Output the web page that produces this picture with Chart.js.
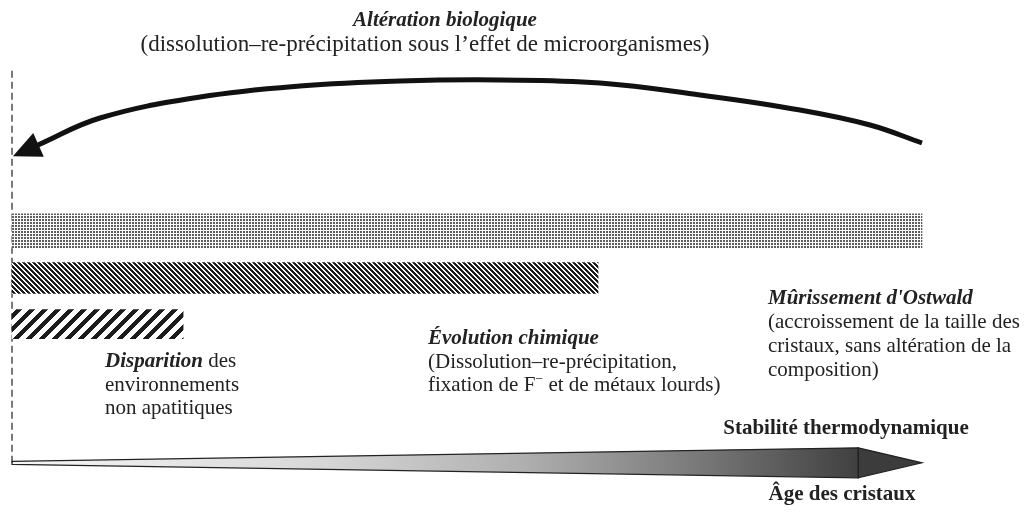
<!DOCTYPE html>
<html>
<head>
    <meta charset="utf-8">
    <title>Vieillissement des cristaux d'apatite</title>
    <script src="https://cdn.jsdelivr.net/npm/chart.js@4.4.0/dist/chart.umd.min.js"></script>
    <style>
        body{
            margin: 0;
            background-color: #ffffff;
        }
        canvas{
            display: block;
        }
    </style>
</head>
<body>
    <canvas id="myChart1" width="1025" height="512"></canvas>

<script>
    // ---- data (x = age des cristaux, 0..100 ; y = hauteur dans le schema, 0..100) ----
    const barNames  = ["Mûrissement d'Ostwald", "Évolution chimique", "Disparition"]
    const barStart  = [0, 0, 0]
    const barEnd    = [100, 64.4, 18.8]
    const barLevel  = [54.9, 45.7, 36.7]

    // fleche courbe (alteration biologique), lue de gauche a droite
    const arcX   = [2.86, 9.67, 20.66, 31.65, 42.64, 53.63, 64.62, 75.6, 86.59, 94.29, 100]
    const arcY   = [71.68, 76.95, 81.05, 83.2, 84.18, 84.38, 83.79, 81.45, 78.52, 75.59, 72.07]
    const arcTip = [0.1, 69.5]

    // axe du bas : debut, base de la pointe, pointe
    const ageAxis  = [0, 93, 100]
    const ageLevel = 9.6
    const originTop = 86.7

    // textes
    const titleText = "Altération biologique"
    const titleNote = "(dissolution–re-précipitation sous l’effet de microorganismes)"
    const axisTop = "Stabilité thermodynamique"
    const axisBottom = "Âge des cristaux"
    const stageText = [
        [[["Mûrissement d'Ostwald", "bi"]],
         [["(accroissement de la taille des", "r"]],
         [["cristaux, sans altération de la", "r"]],
         [["composition)", "r"]]],
        [[["Évolution chimique", "bi"]],
         [["(Dissolution–re-précipitation,", "r"]],
         [["fixation de F", "r"], ["−", "sup"], [" et de métaux lourds)", "r"]]],
        [[["Disparition", "bi"], [" des", "r"]],
         [["environnements", "r"]],
         [["non apatitiques", "r"]]]
    ]

    // ---- layout / styles ----
    const stageTextPos = [[768, 304, 24], [428, 344, 23.5], [105, 367, 23.5]]
    const barSizes = [34, 31, 29]
    const serif = '"Liberation Serif", "Times New Roman", serif'
    const ink = '#222222'

    function fontFor(kind){
        if(kind == "bi") return "italic bold 21px " + serif
        if(kind == "b") return "bold 21px " + serif
        if(kind == "big") return "23px " + serif
        if(kind == "sup") return "14px " + serif
        return "21px " + serif
    }

    function makePattern(size, test, dark, light){
        const c = document.createElement('canvas')
        c.width = size; c.height = size
        const g = c.getContext('2d')
        g.fillStyle = light
        g.fillRect(0, 0, size, size)
        g.fillStyle = dark
        for(let i = 0; i < size; i++){
            for(let j = 0; j < size; j++){
                if(test(i, j)) g.fillRect(i, j, 1, 1)
            }
        }
        return g.createPattern(c, 'repeat')
    }

    const dots = makePattern(3, (i, j) => i < 2 && j < 2, '#5e5e5e', '#fafafa')
    const fineHatch = makePattern(5, (i, j) => ((i - j) % 5 + 5) % 5 < 3, '#1c1c1c', '#ffffff')
    const wideHatch = makePattern(13, (i, j) => (i + j) % 13 < 6, '#1c1c1c', '#ffffff')
    const barFills = [dots, fineHatch, wideHatch]

    function drawRich(ctx, segs, x, y, align){
        let total = 0
        segs.forEach(s => { ctx.font = fontFor(s[1]); total += ctx.measureText(s[0]).width })
        let cx = (align == "center") ? x - total / 2 : x
        segs.forEach(s => {
            ctx.font = fontFor(s[1])
            const dy = (s[1] == "sup") ? -8 : 0
            ctx.fillText(s[0], cx, y + dy)
            cx += ctx.measureText(s[0]).width
        })
    }

    // axe "age des cristaux" en forme de coin
    const wedgePlugin = {
        id: 'wedge',
        beforeDatasetsDraw(chart){
            const ctx = chart.ctx
            const xs = chart.scales.x, ys = chart.scales.y
            const x0 = xs.getPixelForValue(ageAxis[0])
            const x1 = xs.getPixelForValue(ageAxis[1])
            const x2 = xs.getPixelForValue(ageAxis[2])
            const yc = ys.getPixelForValue(ageLevel)
            const h0 = 1.5, h1 = 15

            ctx.save()
            const grad = ctx.createLinearGradient(x0, 0, x1, 0)
            grad.addColorStop(0, '#f6f6f6')
            grad.addColorStop(0.35, '#d9d9d9')
            grad.addColorStop(0.6, '#b0b0b0')
            grad.addColorStop(0.8, '#7c7c7c')
            grad.addColorStop(1, '#404040')
            ctx.beginPath()
            ctx.moveTo(x0, yc - h0)
            ctx.lineTo(x1, yc - h1)
            ctx.lineTo(x1, yc + h1)
            ctx.lineTo(x0, yc + h0)
            ctx.closePath()
            ctx.fillStyle = grad
            ctx.fill()
            ctx.strokeStyle = '#222'
            ctx.lineWidth = 1.2
            ctx.stroke()

            ctx.beginPath()
            ctx.moveTo(x1, yc - h1)
            ctx.lineTo(x2, yc)
            ctx.lineTo(x1, yc + h1)
            ctx.closePath()
            ctx.fillStyle = '#3c3c3c'
            ctx.fill()
            ctx.stroke()
            ctx.restore()
        }
    }

    // pointe de la fleche courbe + textes
    const notesPlugin = {
        id: 'notes',
        afterDatasetsDraw(chart){
            const ctx = chart.ctx
            const xs = chart.scales.x, ys = chart.scales.y
            const meta = chart.getDatasetMeta(3)
            const first = meta.data[0]
            const tx = xs.getPixelForValue(arcTip[0])
            const ty = ys.getPixelForValue(arcTip[1])
            const ang = Math.atan2(ty - first.y, tx - first.x)
            const len = 28, half = 13
            const bx = tx - len * Math.cos(ang), by = ty - len * Math.sin(ang)

            ctx.save()
            ctx.fillStyle = '#111'
            ctx.beginPath()
            ctx.moveTo(tx, ty)
            ctx.lineTo(bx + half * Math.sin(ang), by - half * Math.cos(ang))
            ctx.lineTo(bx - half * Math.sin(ang), by + half * Math.cos(ang))
            ctx.closePath()
            ctx.fill()

            ctx.fillStyle = ink
            ctx.textAlign = 'left'
            ctx.textBaseline = 'alphabetic'
            drawRich(ctx, [[titleText, "bi"]], 445, 26, "center")
            drawRich(ctx, [[titleNote, "big"]], 425, 51, "center")
            drawRich(ctx, [[axisTop, "b"]], 846, 434, "center")
            drawRich(ctx, [[axisBottom, "b"]], 842, 500, "center")

            for(let k = 0; k < stageText.length; k++){
                const p = stageTextPos[k]
                for(let l = 0; l < stageText[k].length; l++){
                    drawRich(ctx, stageText[k][l], p[0], p[1] + l * p[2], "left")
                }
            }
            ctx.restore()
        }
    }

    const datasets = []
    for(let i = 0; i < barNames.length; i++){
        datasets.push({
            type: 'bar',
            label: barNames[i],
            data: [{x: [barStart[i], barEnd[i]], y: barLevel[i]}],
            backgroundColor: barFills[i],
            borderWidth: 0,
            barThickness: barSizes[i],
            grouped: false
        })
    }

    const arcData = []
    for(let i = 0; i < arcX.length; i++) arcData.push({x: arcX[i], y: arcY[i]})

    datasets.push({
        type: 'line',
        label: titleText,
        indexAxis: 'x',
        data: arcData,
        borderColor: '#111',
        borderWidth: 5,
        tension: 0.4,
        pointRadius: 0,
        fill: false
    })

    datasets.push({
        type: 'line',
        label: 'origine',
        indexAxis: 'x',
        data: [{x: ageAxis[0], y: ageLevel}, {x: ageAxis[0], y: originTop}],
        borderColor: '#222',
        borderWidth: 1.2,
        borderDash: [7, 4],
        pointRadius: 0,
        fill: false
    })

    const mychart = new Chart(document.getElementById('myChart1').getContext('2d'), {
        type: 'bar',
        data: { datasets: datasets },
        options: {
            indexAxis: 'y',
            responsive: false,
            animation: false,
            events: [],
            layout: { padding: 0 },
            scales: {
                x: { type: 'linear', min: -1.32, max: 111.32, display: false, offset: false },
                y: { type: 'linear', min: 0, max: 100, display: false, offset: false }
            },
            plugins: {
                legend: { display: false },
                tooltip: { enabled: false },
                title: { display: false }
            }
        },
        plugins: [wedgePlugin, notesPlugin]
    })
</script>
</body>
</html>
